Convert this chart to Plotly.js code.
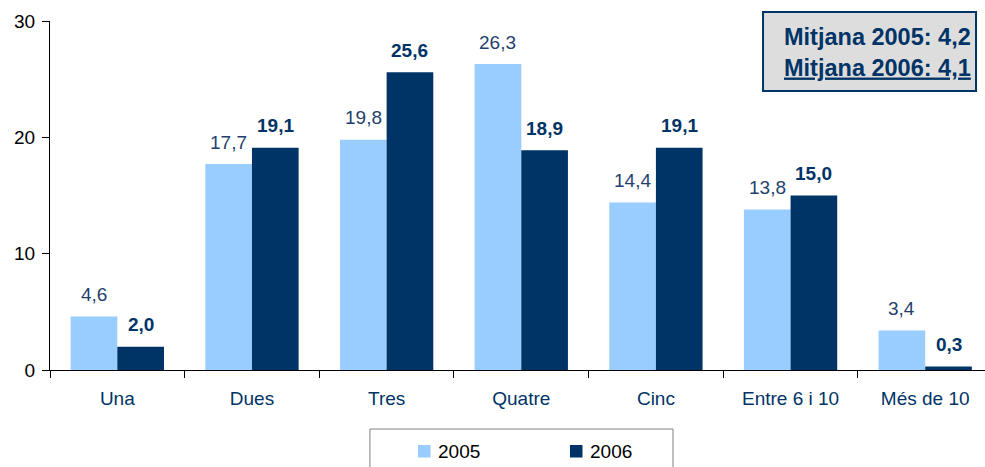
<!DOCTYPE html>
<html>
<head>
<meta charset="utf-8">
<script src="https://cdn.plot.ly/plotly-3.0.1.min.js"></script>
<style>html,body{margin:0;padding:0;background:#fff;}#chart{width:985px;height:467px;}</style>
</head>
<body>
<div id="chart"></div>
<script>
var categories = ["Una", "Dues", "Tres", "Quatre", "Cinc", "Entre 6 i 10", "Més de 10"];
var values2005 = [4.6, 17.7, 19.8, 26.3, 14.4, 13.8, 3.4];
var values2006 = [2.0, 19.1, 25.6, 18.9, 19.1, 15.0, 0.3];
var seriesNames = ["2005", "2006"];
var yTicks = [0, 10, 20, 30];
var meanText = ["Mitjana 2005: 4,2", "Mitjana 2006: 4,1"];

var FONT = "Liberation Sans";
var LIGHT = "#99CCFF", DARK = "#003366", LABEL = "#1F3F6E";
var BARGAP = 0.307;
var half = (1 - BARGAP) / 4; // center offset of each bar in a group of two

var colors = [LIGHT, DARK];
var traces = [
  {type: "bar", name: seriesNames[0], x: categories, y: values2005,
   marker: {color: LIGHT}, hoverinfo: "x+y"},
  {type: "bar", name: seriesNames[1], x: categories, y: values2006,
   marker: {color: DARK}, hoverinfo: "x+y"}
];

function fmt(v) { return v.toFixed(1).replace(".", ","); }

var annotations = [];
categories.forEach(function (c, i) {
  annotations.push({x: i - half, y: values2005[i], xref: "x", yref: "y",
    text: fmt(values2005[i]), showarrow: false, yshift: 22, yanchor: "middle",
    font: {family: FONT, size: 19, color: LABEL}});
  annotations.push({x: i + half, y: values2006[i], xref: "x", yref: "y",
    text: "<b>" + fmt(values2006[i]) + "</b>", showarrow: false, yshift: 22, yanchor: "middle",
    font: {family: FONT, size: 19, color: DARK}});
});
annotations.push({xref: "paper", yref: "paper", x: 0.9872, y: 0.91,
  xanchor: "right", yanchor: "middle", align: "right", showarrow: false,
  text: "<b>" + meanText[0] + "</b><br><b><u>" + meanText[1] + "</u></b>",
  font: {family: FONT, size: 23.5, color: DARK}});

// legend (drawn as box + swatches + labels)
var shapes = [
  {type: "rect", xref: "paper", yref: "paper",
    x0: 0.7626, x1: 0.9904, y0: 0.7994, y1: 1.0258,
    fillcolor: "#DDDDDD", line: {color: DARK, width: 2}, layer: "below"},
  {type: "rect", xref: "paper", yref: "paper",
    x0: 0.3422, x1: 0.6663, y0: -0.1691, y1: -0.32,
    fillcolor: "#ffffff", line: {color: "#808080", width: 1}, layer: "below"}
];
var legendX = [0.3936, 0.5561];
seriesNames.forEach(function (n, k) {
  shapes.push({type: "rect", xref: "paper", yref: "paper",
    x0: legendX[k], x1: legendX[k] + 0.0134, y0: -0.2149, y1: -0.2507,
    fillcolor: colors[k], line: {width: 0}});
  annotations.push({xref: "paper", yref: "paper", x: legendX[k] + 0.0192, y: -0.2321,
    xanchor: "left", yanchor: "middle", showarrow: false, text: n,
    font: {family: FONT, size: 19, color: "#000"}});
});

var layout = {
  width: 985, height: 467,
  margin: {l: 50, r: 0, t: 21, b: 97, pad: 0},
  paper_bgcolor: "#ffffff", plot_bgcolor: "#ffffff",
  font: {family: FONT, size: 19, color: "#000"},
  barmode: "group", bargap: BARGAP, bargroupgap: 0,
  separators: ",.",
  xaxis: {type: "category", range: [-0.5, 6.444], tickson: "boundaries",
    ticks: "outside", ticklen: 7, tickcolor: "#000", tickwidth: 1,
    showline: true, linecolor: "#000", linewidth: 1, showgrid: false,
    tickfont: {family: FONT, size: 19, color: DARK}, ticklabelstandoff: 11,
    fixedrange: true},
  yaxis: {range: [0, 30], tickvals: yTicks, ticktext: yTicks.map(String),
    ticks: "outside", ticklen: 7, tickcolor: "#000", tickwidth: 1,
    showline: true, linecolor: "#000", linewidth: 1, showgrid: false, zeroline: false,
    tickfont: {family: FONT, size: 19, color: "#000"}, ticklabelstandoff: 3, fixedrange: true},
  showlegend: false,
  shapes: shapes,
  annotations: annotations
};

Plotly.newPlot("chart", traces, layout, {displayModeBar: false});
</script>
</body>
</html>
